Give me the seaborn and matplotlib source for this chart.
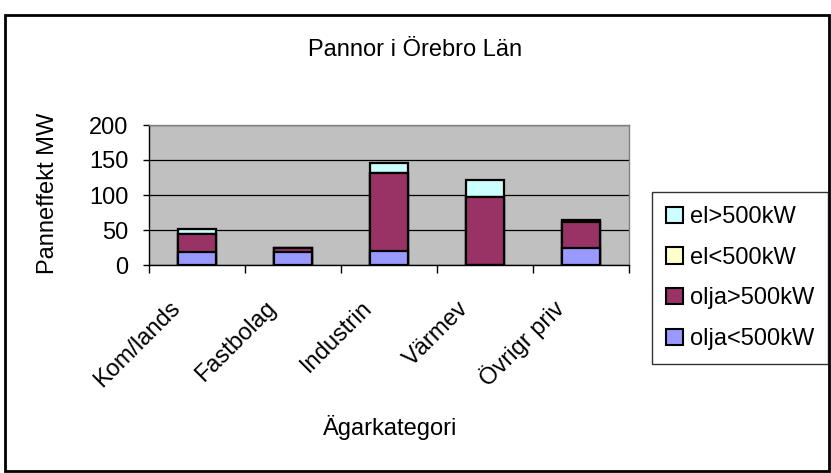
import matplotlib
matplotlib.use("Agg")
import matplotlib.pyplot as plt
import matplotlib.transforms as mtrans
import numpy as np
import pandas as pd
import seaborn as sns
from matplotlib.patches import Patch, Rectangle

categories = ["Kom/lands", "Fastbolag", "Industrin", "Värmev", "Övrigr priv"]
olja_small = [18, 18, 20, 0, 24]
olja_big = [27, 6, 112, 97, 38]
el_small = [0, 0, 0, 0, 1]
el_big = [6, 0, 13, 24, 2]

series = ["olja<500kW", "olja>500kW", "el<500kW", "el>500kW"]
colors = ["#9999FF", "#993366", "#FFFFCC", "#CCFFFF"]

sns.set_theme(style="white")
plt.rcParams["font.family"] = ["Liberation Sans", "DejaVu Sans"]
plt.rcParams.update({"text.color": "black", "xtick.color": "black", "ytick.color": "black",
                     "xtick.labelcolor": "black", "ytick.labelcolor": "black"})
FS = 17

df = pd.DataFrame({"kat": categories, "olja<500kW": olja_small, "olja>500kW": olja_big,
                   "el<500kW": el_small, "el>500kW": el_big})
cum = df[series].cumsum(axis=1)

W, H = 831, 473
fig = plt.figure(figsize=(W / 100, H / 100), dpi=100)
ax = fig.add_axes([149 / W, 1 - 265 / H, 480 / W, 140 / H])
ax.set_facecolor("#C0C0C0")

# draw tallest cumulative first so lower segments sit on top
for s, c in reversed(list(zip(series, colors))):
    sns.barplot(x=df["kat"], y=cum[s], color=c, ax=ax, width=0.39,
                edgecolor="black", linewidth=1.6, saturation=1)

ax.set_ylim(0, 200)
ax.set_yticks([0, 50, 100, 150, 200])
ax.yaxis.grid(True, color="black", linewidth=0.9)
ax.set_axisbelow(True)
for sp in ["top", "right"]:
    ax.spines[sp].set_color("#808080")
    ax.spines[sp].set_linewidth(1)
for sp in ["left", "bottom"]:
    ax.spines[sp].set_color("black")
    ax.spines[sp].set_linewidth(1)
ax.tick_params(axis="y", length=4.3, width=1, color="black", left=True, direction="out",
               labelsize=FS, pad=10.5, labelcolor="black")
ax.set_xticks(np.arange(len(categories) + 1) - 0.5)
ax.set_xticklabels([""] * (len(categories) + 1))
ax.tick_params(axis="x", which="major", length=5.5, width=1, color="black", bottom=True, direction="out")
ax.set_xticks(np.arange(len(categories)), minor=True)
ax.set_xticklabels(categories, minor=True, rotation=45, ha="right", va="center",
                   rotation_mode="anchor", fontsize=FS, color="black")
ax.tick_params(axis="x", which="minor", length=0, pad=0)
shift = mtrans.ScaledTranslation(-20 / 100, -40 / 100, fig.dpi_scale_trans)
for lab in ax.get_xticklabels(minor=True):
    lab.set_transform(lab.get_transform() + shift)
ax.set_xlim(-0.5, len(categories) - 0.5)
ax.set_xlabel("")
ax.set_ylabel("")

fig.text(415 / W, 1 - 50 / H, "Pannor i Örebro Län", fontsize=FS, ha="center", va="center")
fig.text(390 / W, 1 - 427 / H, "Ägarkategori", fontsize=FS, ha="center", va="center")
fig.text(48.5 / W, 1 - 193.5 / H, "Panneffekt MW", fontsize=FS, ha="center", va="center",
         rotation=90)

handles = [Patch(facecolor=c, edgecolor="black", linewidth=1.5, label=s)
           for s, c in zip(series, colors)][::-1]
leg = fig.legend(handles=handles, loc="upper left", bbox_to_anchor=(652 / W, 1 - 192 / H),
                 frameon=True, fancybox=False, edgecolor="black", fontsize=FS,
                 handlelength=0.7, handleheight=0.7, handletextpad=0.3,
                 labelspacing=0.79, borderpad=0.6, borderaxespad=0)
leg.get_frame().set_linewidth(1)

fig.patches.append(Rectangle((5 / W, 2 / H), 824 / W, (H - 17) / H, transform=fig.transFigure,
                             fill=False, edgecolor="black", linewidth=2))

fig.savefig("out.png", dpi=100)
